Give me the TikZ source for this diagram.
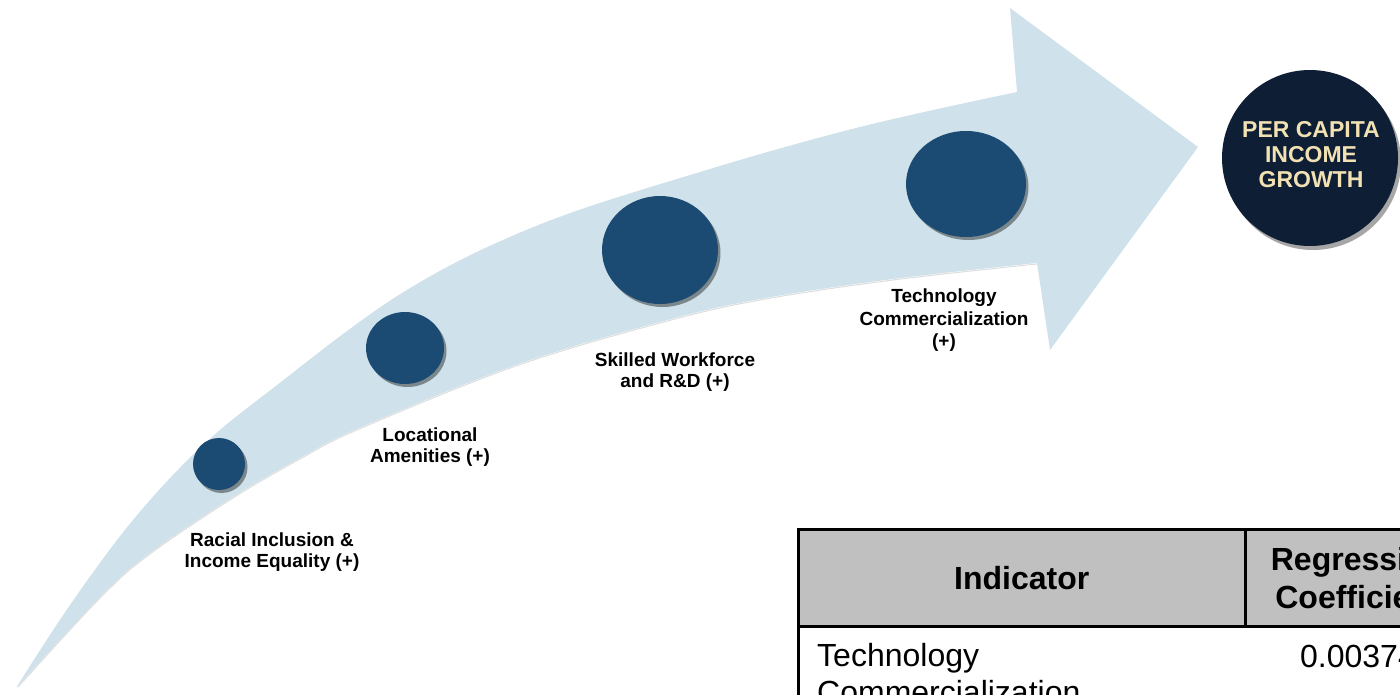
\documentclass[tikz,border=0pt]{standalone}
\usepackage{fontspec}
\setmainfont{Liberation Sans}
\usetikzlibrary{shadows,shapes.geometric}
\definecolor{arrowfill}{HTML}{CFE1EA}
\definecolor{dotblue}{HTML}{1B4A73}
\definecolor{navy}{HTML}{0E1E35}
\definecolor{cream}{HTML}{F2E2B3}
\definecolor{headgray}{HTML}{C0C0C0}
\begin{document}
\begin{tikzpicture}[x=1pt,y=-1pt,
  dot/.style={ellipse,fill=dotblue,inner sep=0pt,
    drop shadow={shadow xshift=2.5pt,shadow yshift=-3pt,opacity=0.4,fill=black}},
  lbl/.style={align=center,anchor=north,inner sep=0pt,text=black},
  cell/.style={inner sep=0pt,text=black},
  rule/.style={line width=3pt,line cap=rect}]
\useasboundingbox (0,0) rectangle (1400,695);
\clip (0,0) rectangle (1400,695);

% curved arrow
\fill[arrowfill]
  plot[smooth,tension=0.6] coordinates {(16,688) (70,605) (133,520) (200,448) (268,392) (402,293) (536,226) (700,172) (860,127) (1017,92)}
  -- (1010,8) -- (1198,147) -- (1050,350) -- (1037,263)
  -- plot[smooth,tension=0.6] coordinates {(1037,263) (893,279) (760,299) (660,322) (513,366) (357,429) (300,458) (233,497) (150,553) (100,597) (16,688)}
  -- cycle;
\draw[gray!45,line width=1pt,opacity=0.6]
  plot[smooth,tension=0.6] coordinates {(1037,264) (893,280) (760,300) (660,323) (513,367) (357,430) (300,459) (233,498) (150,554) (100,598) (18,687)};

% circles on the arrow
\node[dot,minimum width=52pt,minimum height=52pt] (c1) at (219,464) {};
\node[dot,minimum width=78pt,minimum height=72pt] (c2) at (405,348) {};
\node[dot,minimum width=116pt,minimum height=108pt] (c3) at (660,250) {};
\node[dot,minimum width=120pt,minimum height=106pt] (c4) at (966,184) {};

% labels
\node[lbl,font=\bfseries\fontsize{19}{20.5}\selectfont] (l1) at (272,533) {Racial Inclusion \&\\Income Equality (+)};
\node[lbl,font=\bfseries\fontsize{19}{20.5}\selectfont] (l2) at (430,428) {Locational\\Amenities (+)};
\node[lbl,font=\bfseries\fontsize{19}{20.5}\selectfont] (l3) at (675,353) {Skilled Workforce\\and R\&D (+)};
\node[lbl,font=\bfseries\fontsize{19}{22.5}\selectfont] (l4) at (944,289) {Technology\\Commercialization\\(+)};

% goal circle
\node[circle,fill=navy,minimum size=176pt,inner sep=0pt,
  drop shadow={shadow xshift=3pt,shadow yshift=-4pt,opacity=0.35,fill=black}] (goal) at (1310,158) {};
\node[lbl,text=cream,font=\bfseries\fontsize{23}{25}\selectfont] (goaltxt) at (1311,121.5) {PER CAPITA\\INCOME\\GROWTH};

% table
\fill[headgray] (798.5,529.5) rectangle (1480,626.5);
\draw[rule] (798.5,720) -- (798.5,529.5) -- (1480,529.5);
\draw[rule] (798.5,626.5) -- (1480,626.5);
\draw[rule] (1245,529.5) -- (1245,626.5);
\node[cell,anchor=base,font=\bfseries\fontsize{32}{38}\selectfont] (hind) at (1021.75,589) {Indicator};
\node[cell,anchor=north,align=center,font=\bfseries\fontsize{32}{38}\selectfont] (hreg) at (1358,547) {Regression\\Coefficient};
\node[cell,anchor=north west,align=left,font=\fontsize{32}{37}\selectfont] (r1ind) at (817,643.6) {Technology\\Commercialization};
\node[cell,anchor=base,font=\fontsize{32}{37}\selectfont] (r1val) at (1358,667) {0.00374};
\end{tikzpicture}
\end{document}
